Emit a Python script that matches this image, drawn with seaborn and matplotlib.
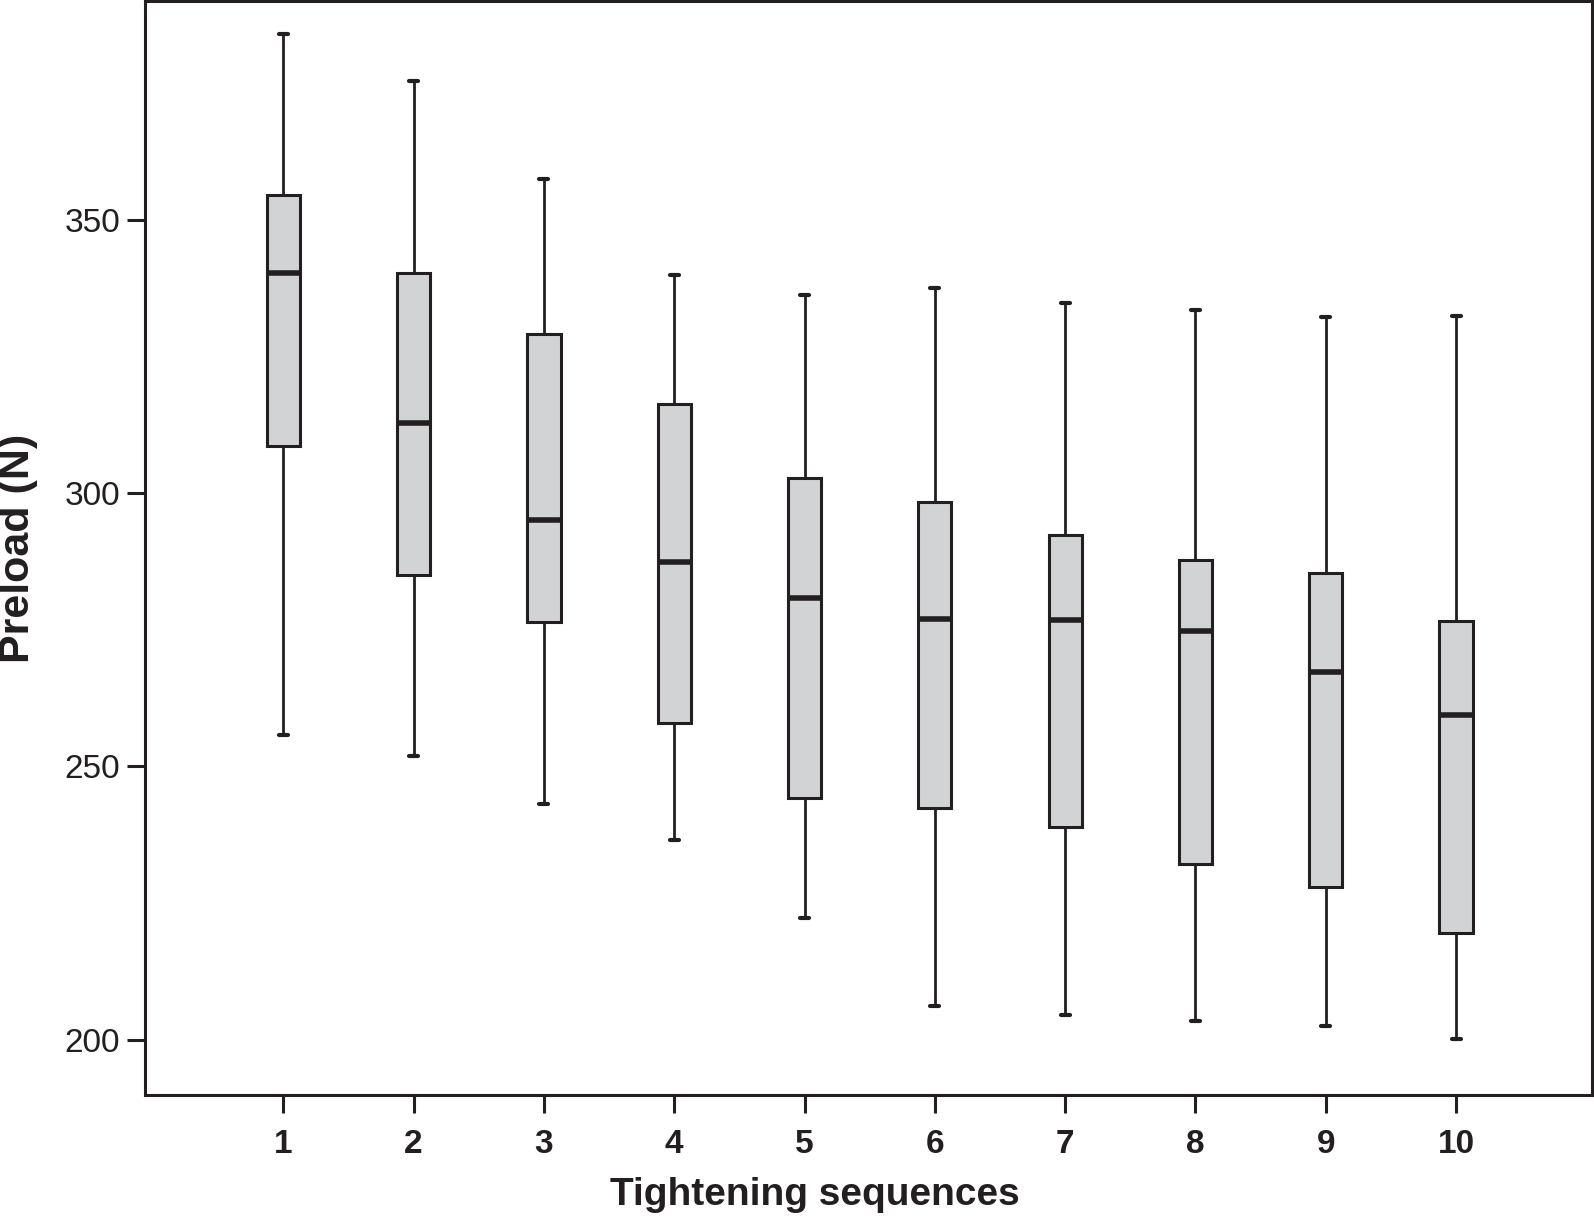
import matplotlib
matplotlib.use("Agg")
import matplotlib.pyplot as plt
import seaborn as sns
import pandas as pd
import numpy as np

sequences = ["1", "2", "3", "4", "5", "6", "7", "8", "9", "10"]
whisker_low = [255.8, 251.9, 243.2, 236.6, 222.3, 206.1, 204.5, 203.5, 202.6, 200.2]
q1 = [308.6, 285.0, 276.5, 258.0, 244.3, 242.4, 238.9, 232.2, 227.9, 219.5]
median = [340.3, 312.9, 295.1, 287.4, 280.9, 277.0, 276.8, 274.8, 267.2, 259.5]
q3 = [354.6, 340.3, 329.1, 316.3, 302.7, 298.4, 292.3, 287.8, 285.4, 276.6]
whisker_high = [384.0, 375.4, 357.4, 339.9, 336.3, 337.5, 334.7, 333.6, 332.3, 332.4]

# five values per group -> quartiles land exactly on the read-off stats
rows = []
for i, s in enumerate(sequences):
    for v in [whisker_low[i], q1[i], median[i], q3[i], whisker_high[i]]:
        rows.append({"seq": s, "preload": v})
df = pd.DataFrame(rows)

sns.set_style("white")
plt.rcParams["font.family"] = ["Liberation Sans", "DejaVu Sans"]

ink = "#231f20"
fig = plt.figure(figsize=(15.94, 12.18), dpi=100)
ax = fig.add_axes([0.091, 0.101, 0.908, 0.898])

sns.boxplot(data=df, x="seq", y="preload", order=sequences, ax=ax,
            whis=(0, 100), width=0.255, color="#d1d3d4", fill=True,
            linewidth=2.0, showfliers=False,
            boxprops=dict(edgecolor=ink, facecolor="#d1d3d4", linewidth=2.2),
            medianprops=dict(color=ink, linewidth=4),
            whiskerprops=dict(color=ink, linewidth=2.0),
            capprops=dict(color=ink, linewidth=3.0))

# short caps on the whiskers
for i in range(len(sequences)):
    for val in (whisker_low[i], whisker_high[i]):
        for ln in ax.lines:
            yd = np.asarray(ln.get_ydata(), dtype=float)
            xd = np.asarray(ln.get_xdata(), dtype=float)
            if len(yd) == 2 and np.allclose(yd, val) and abs(xd.mean() - i) < 0.3:
                ln.set_xdata([i - 0.035, i + 0.035])

ax.set_xlim(-1.061, 10.046)
ax.set_ylim(189.9, 390)
ax.set_yticks([200, 250, 300, 350])

for sp in ax.spines.values():
    sp.set_visible(True)
    sp.set_color(ink)
    sp.set_linewidth(2.2)

ax.tick_params(axis="both", direction="out", length=13, width=2.2, color=ink,
               labelcolor=ink, labelsize=24, pad=5,
               left=True, bottom=True, top=False, right=False)
ax.tick_params(axis="x", pad=11.5)
for lbl in ax.get_xticklabels():
    lbl.set_fontweight("bold")

ax.set_xlabel("Tightening sequences", fontsize=28, fontweight="bold", color=ink, labelpad=12.5)
ax.xaxis.label.set_x(0.4626)
ax.set_ylabel("Preload (N)", fontsize=31, fontweight="bold", color=ink, labelpad=19)

plt.savefig("out.png", dpi=100)
plt.close()
